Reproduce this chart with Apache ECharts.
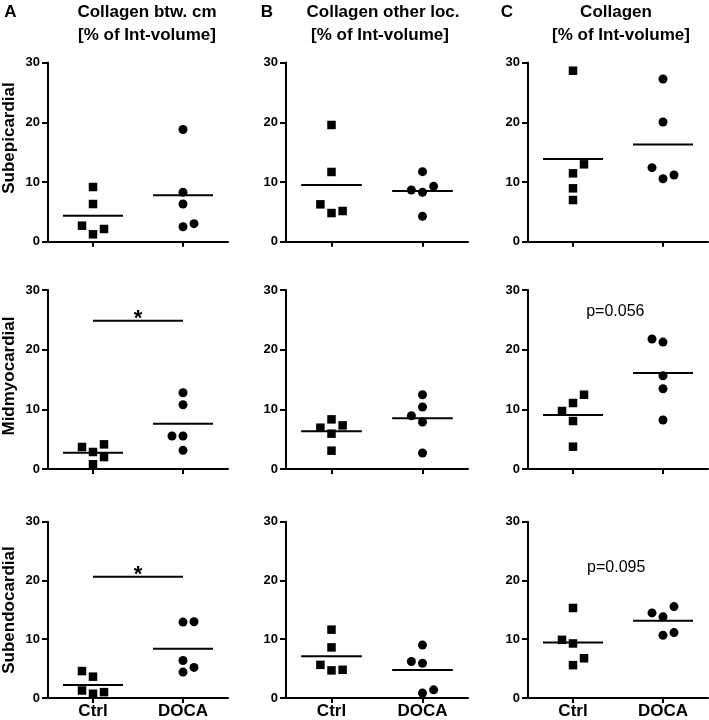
<!DOCTYPE html>
<html><head><meta charset="utf-8">
<script src="https://cdn.jsdelivr.net/npm/echarts@6/dist/echarts.min.js"></script>
<style>html,body{margin:0;padding:0;background:#fff}#c{width:709px;height:720px}</style>
</head><body><div id="c"></div><script>
// ---------- data ----------
const categories = ['Ctrl', 'DOCA'];
const rowNames = ['Subepicardial', 'Midmyocardial', 'Subendocardial'];
const panelLetters = ['A', 'B', 'C'];
const titleLine1 = ['Collagen btw. cm', 'Collagen other loc.', 'Collagen'];
const titleLine2 = '[% of Int-volume]';
const yTicks = [0, 10, 20, 30];

// values (jitter slots: -1 left, 0 centre, +1 right)
const ctrlA1 = [9.16, 6.31, 2.68, 2.13, 1.24];   const jCtrlA1 = [0, 0, -1, 1, 0];
const docaA1 = [18.8, 8.27, 6.31, 2.5, 3.02];    const jDocaA1 = [0, 0, 0, 0, 1];
const ctrlB1 = [19.55, 11.68, 6.26, 4.8, 5.14];  const jCtrlB1 = [0, 0, -1, 0, 1];
const docaB1 = [11.73, 8.66, 8.27, 9.27, 4.25];  const jDocaB1 = [0, -1, 0, 1, 0];
const ctrlC1 = [28.64, 12.96, 11.45, 8.94, 6.98];const jCtrlC1 = [0, 1, 0, 0, 0];
const docaC1 = [27.25, 20.05, 12.4, 10.55, 11.17];const jDocaC1 = [0, 0, -1, 0, 1];

const ctrlA2 = [3.69, 4.13, 2.85, 2.0, 0.8];     const jCtrlA2 = [-1, 1, 0, 1, 0];
const docaA2 = [12.78, 10.77, 5.53, 5.53, 3.13]; const jDocaA2 = [0, 0, -1, 0, 0];
const ctrlB2 = [8.32, 6.92, 7.31, 5.92, 3.07];   const jCtrlB2 = [0, -1, 1, 0, 0];
const docaB2 = [12.45, 10.39, 8.93, 7.87, 2.68]; const jDocaB2 = [0, 0, -1, 0, 0];
const ctrlC2 = [12.45, 11.06, 9.72, 8.04, 3.74]; const jCtrlC2 = [1, 0, -1, 0, 0];
const docaC2 = [21.78, 21.27, 15.63, 13.45, 8.21];const jDocaC2 = [-1, 0, 0, 0, 0];

const ctrlA3 = [4.58, 3.63, 1.28, 0.72, 1.0];    const jCtrlA3 = [-1, 0, -1, 0, 1];
const docaA3 = [12.92, 12.97, 6.38, 5.2, 4.41];  const jDocaA3 = [0, 1, 0, 1, 0];
const ctrlB3 = [11.63, 8.61, 5.64, 4.7, 4.8];    const jCtrlB3 = [0, 0, -1, 0, 1];
const docaB3 = [9.0, 6.21, 5.92, 0.84, 1.39];    const jDocaB3 = [0, -1, 0, 0, 1];
const ctrlC3 = [15.32, 9.9, 9.28, 6.76, 5.59];   const jCtrlC3 = [0, -1, 0, 1, 0];
const docaC3 = [14.48, 13.81, 15.55, 10.68, 11.13];const jDocaC3 = [-1, 0, 1, 0, 1];

// group means [Ctrl, DOCA]
const meanA1 = [4.36, 7.77];  const meanB1 = [9.5, 8.49];  const meanC1 = [13.85, 16.3];
const meanA2 = [2.73, 7.59];  const meanB2 = [6.31, 8.49]; const meanC2 = [9.05, 16.08];
const meanA3 = [2.23, 8.39];  const meanB3 = [7.1, 4.75];  const meanC3 = [9.45, 13.14];

// annotations
const sigA2 = 24.84;  const sigA3 = 20.64;
const pTextC2 = 'p=0.056'; const pYC2 = 26.35;
const pTextC3 = 'p=0.095'; const pYC3 = 22.25;

// ---------- layout ----------
const FONT = '"Liberation Sans", Arial, Helvetica, sans-serif';
const colLeft = [48, 286, 528], colWidth = [180, 182, 180];
const rowTop = [62.6, 290, 521.7], rowHeight = [179.1, 179, 178.6];
const JIT = 11 / 90, HALF = 30 / 90;

const panels = [
  {ctrl: ctrlA1, jc: jCtrlA1, doca: docaA1, jd: jDocaA1, mean: meanA1},
  {ctrl: ctrlB1, jc: jCtrlB1, doca: docaB1, jd: jDocaB1, mean: meanB1},
  {ctrl: ctrlC1, jc: jCtrlC1, doca: docaC1, jd: jDocaC1, mean: meanC1},
  {ctrl: ctrlA2, jc: jCtrlA2, doca: docaA2, jd: jDocaA2, mean: meanA2, sig: sigA2},
  {ctrl: ctrlB2, jc: jCtrlB2, doca: docaB2, jd: jDocaB2, mean: meanB2},
  {ctrl: ctrlC2, jc: jCtrlC2, doca: docaC2, jd: jDocaC2, mean: meanC2, ptext: pTextC2, py: pYC2, px: 0.97},
  {ctrl: ctrlA3, jc: jCtrlA3, doca: docaA3, jd: jDocaA3, mean: meanA3, sig: sigA3},
  {ctrl: ctrlB3, jc: jCtrlB3, doca: docaB3, jd: jDocaB3, mean: meanB3},
  {ctrl: ctrlC3, jc: jCtrlC3, doca: docaC3, jd: jDocaC3, mean: meanC3, ptext: pTextC3, py: pYC3, px: 0.98}
];

const grids = [], xCat = [], xVal = [], yAxes = [], series = [];
panels.forEach((p, i) => {
  const r = Math.floor(i / 3), c = i % 3;
  grids.push({left: colLeft[c], top: rowTop[r], width: colWidth[c], height: rowHeight[r]});
  xCat.push({
    type: 'category', gridIndex: i, data: categories, boundaryGap: true,
    axisLine: {show: true, onZero: false, lineStyle: {color: '#000', width: 2}},
    axisTick: {show: true, alignWithLabel: true, length: 5, lineStyle: {color: '#000', width: 2}},
    axisLabel: {show: r === 2, color: '#000', fontSize: 17, fontWeight: 'bold', fontFamily: FONT, margin: 5},
    splitLine: {show: false}
  });
  xVal.push({type: 'value', gridIndex: i, min: 0, max: 2, show: false});
  yAxes.push({
    type: 'value', gridIndex: i, min: yTicks[0], max: yTicks[yTicks.length - 1], interval: yTicks[1] - yTicks[0],
    axisLine: {show: true, onZero: false, lineStyle: {color: '#000', width: 2}},
    axisTick: {show: true, length: 6, lineStyle: {color: '#000', width: 2}},
    axisLabel: {color: '#000', fontSize: 13, fontWeight: 'bold', fontFamily: FONT, margin: 8},
    splitLine: {show: false}
  });
  const xi = 9 + i;
  series.push({
    type: 'scatter', xAxisIndex: xi, yAxisIndex: i, symbol: 'rect', symbolSize: 8.5,
    itemStyle: {color: '#000', opacity: 1}, silent: true,
    data: p.ctrl.map((v, k) => [0.5 + p.jc[k] * JIT, v])
  });
  series.push({
    type: 'scatter', xAxisIndex: xi, yAxisIndex: i, symbol: 'circle', symbolSize: 9,
    itemStyle: {color: '#000', opacity: 1}, silent: true,
    data: p.doca.map((v, k) => [1.5 + p.jd[k] * JIT, v])
  });
  [0, 1].forEach(g => {
    series.push({
      type: 'line', xAxisIndex: xi, yAxisIndex: i, symbol: 'none', silent: true,
      lineStyle: {color: '#000', width: 2},
      data: [[0.5 + g - HALF, p.mean[g]], [0.5 + g + HALF, p.mean[g]]]
    });
  });
  if (p.sig !== undefined) {
    series.push({
      type: 'line', xAxisIndex: xi, yAxisIndex: i, symbol: 'none', silent: true,
      lineStyle: {color: '#000', width: 2},
      data: [[0.5, p.sig], [1.5, p.sig]]
    });
    series.push({
      type: 'scatter', xAxisIndex: xi, yAxisIndex: i, symbolSize: 1, silent: true,
      itemStyle: {color: 'rgba(0,0,0,0)', opacity: 1},
      label: {show: true, position: 'inside', offset: [0, -2], formatter: '*', color: '#000',
              fontSize: 22, fontWeight: 'bold', fontFamily: FONT},
      data: [[1.0, p.sig]]
    });
  }
  if (p.ptext) {
    series.push({
      type: 'scatter', xAxisIndex: xi, yAxisIndex: i, symbolSize: 1, silent: true,
      itemStyle: {color: 'rgba(0,0,0,0)', opacity: 1},
      label: {show: true, position: 'inside', formatter: p.ptext, color: '#000',
              fontSize: 16, fontFamily: FONT},
      data: [[p.px, p.py]]
    });
  }
});

function txt(x, y, text, size, bold, rot) {
  return {
    type: 'text', x: x, y: y, rotation: rot || 0, silent: true,
    style: {text: text, fill: '#000', font: (bold ? 'bold ' : '') + size + 'px ' + FONT,
            align: 'center', verticalAlign: 'middle', textAlign: 'center', textVerticalAlign: 'middle'}
  };
}
const graphics = [];
const letterX = [10.5, 267, 507];
const t1X = [147, 383, 616], t2X = [147, 380, 621];
[0, 1, 2].forEach(c => {
  graphics.push(txt(letterX[c], 12, panelLetters[c], 17, true));
  graphics.push(txt(t1X[c], 12, titleLine1[c], 17, true));
  graphics.push(txt(t2X[c], 35, titleLine2, 17, true));
});
const rowLabelY = [138, 376, 610];
[0, 1, 2].forEach(r => graphics.push(txt(9, rowLabelY[r], rowNames[r], 17, true, Math.PI / 2)));

const chart = echarts.init(document.getElementById('c'), null, {renderer: 'canvas'});
chart.setOption({
  backgroundColor: '#fff',
  animation: false,
  textStyle: {fontFamily: FONT},
  grid: grids,
  xAxis: xCat.concat(xVal),
  yAxis: yAxes,
  series: series,
  graphic: graphics
});
</script></body></html>
